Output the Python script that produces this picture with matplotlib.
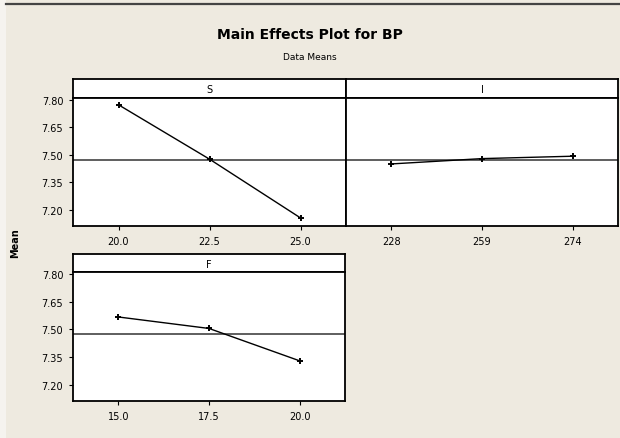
"""
Main effects plot for BP (Minitab style)
"""

import matplotlib
matplotlib.use('Agg')
import matplotlib.pyplot as plt
from matplotlib.lines import Line2D
from matplotlib.patches import Rectangle

# factor levels and data means
s_levels = ['20.0', '22.5', '25.0']
s_means = [7.773, 7.477, 7.157]

i_levels = ['228', '259', '274']
i_means = [7.451, 7.480, 7.493]

f_levels = ['15.0', '17.5', '20.0']
f_means = [7.567, 7.505, 7.330]

grand_mean = 7.475
y_ticks = [7.20, 7.35, 7.50, 7.65, 7.80]

W, H = 620, 439
bg = '#EEEAE0'

plt.rcParams['font.family'] = ['DejaVu Sans']

fig = plt.figure(figsize=(W / 100, H / 100), dpi=100)
fig.patch.set_facecolor(bg)


def box(x0, y0, x1, y1):
    # pixel box (top-left origin) -> figure fraction rect
    return [x0 / W, 1 - y1 / H, (x1 - x0) / W, (y1 - y0) / H]


def panel(x0, x1, y_head, y0, y1, name, levels, means, show_y):
    head = fig.add_axes(box(x0, y_head, x1, y0))
    head.set_xticks([])
    head.set_yticks([])
    head.set_facecolor('white')
    for sp in head.spines.values():
        sp.set_linewidth(1.3)
    head.text(0.5, 0.45, name, ha='center', va='center', fontsize=7)

    ax = fig.add_axes(box(x0, y0, x1, y1))
    ax.set_facecolor('white')
    for sp in ax.spines.values():
        sp.set_linewidth(1.3)
    xs = range(len(levels))
    ax.axhline(grand_mean, color='#333333', lw=1.1)
    ax.plot(xs, means, color='black', lw=1.0, marker='+', ms=5, mew=1.4)
    ax.set_xlim(-0.5, 2.5)
    ax.set_ylim(7.113, 7.81)
    ax.set_xticks(list(xs))
    ax.set_xticklabels(levels)
    ax.set_yticks(y_ticks)
    ax.set_yticklabels(['%.2f' % v for v in y_ticks])
    ax.tick_params(length=3, width=0.8, labelsize=7, pad=4)
    if not show_y:
        ax.tick_params(axis='y', left=False, labelleft=False)
    return ax


panel(73, 346, 80, 99, 227, 'S', s_levels, s_means, True)
panel(346, 618, 80, 99, 227, 'I', i_levels, i_means, False)
panel(73, 345, 255, 273, 402, 'F', f_levels, f_means, True)

fig.text(0.5, 1 - 35 / H, 'Main Effects Plot for BP', ha='center', va='center',
         fontsize=10, fontweight='bold')
fig.text(0.5, 1 - 57 / H, 'Data Means', ha='center', va='center', fontsize=6.5)
fig.text(15 / W, 1 - 243 / H, 'Mean', ha='center', va='center', rotation=90,
         fontsize=7, fontweight='bold')

# window frame bits
fig.add_artist(Rectangle((0, 0), 6 / W, 1, transform=fig.transFigure,
                         facecolor='#F5F3EF', edgecolor='none'))
fig.add_artist(Line2D([6 / W, 1], [1 - 4.5 / H, 1 - 4.5 / H], transform=fig.transFigure,
                      color='#444444', lw=1.6))

fig.savefig('out.png', dpi=100, facecolor=fig.get_facecolor())
